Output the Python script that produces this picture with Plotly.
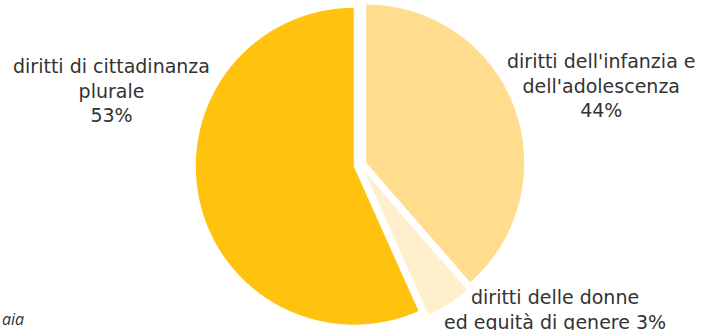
import plotly.graph_objects as go

labels = ["diritti dell'infanzia e<br>dell'adolescenza", "diritti delle donne<br>ed equità di genere", "diritti di cittadinanza<br>plurale"]
# slice sizes as drawn in the picture (angles measured), printed percentages below
values = [38.6, 4.7, 56.7]
pct_text = ["44%", "3%", "53%"]
colors = ["#FFDC8E", "#FFEFCD", "#FFC30F"]

fig = go.Figure(go.Pie(
    labels=labels, values=values, sort=False, direction="clockwise", rotation=0,
    pull=[0.038, 0.038, 0.038], textinfo="none", hoverinfo="skip",
    marker=dict(colors=colors, line=dict(width=1, color="white")),
    domain=dict(x=[0.026, 1], y=[0, 1]), showlegend=False,
))

W, H = 702, 330
label_pos = [(601, 85, "<br>"), (555, 309, " "), (111, 90, "<br>")]
for lab, pct, (px, py, sep) in zip(labels, pct_text, label_pos):
    fig.add_annotation(x=px / W, y=1 - py / H, xref="paper", yref="paper",
                       text=lab + sep + pct, showarrow=False, xanchor="center", yanchor="middle",
                       align="center", font=dict(family="DejaVu Sans", size=19, color="#333333"))

fig.add_annotation(x=0, y=1 - 319 / H, xref="paper", yref="paper", text="<i>aia</i>",
                   showarrow=False, xanchor="left", yanchor="middle",
                   font=dict(family="Open Sans", size=16, color="#333333"))

fig.update_layout(width=W, height=H, margin=dict(l=0, r=0, t=0, b=0),
                  paper_bgcolor="white", plot_bgcolor="white")
fig.write_html("out.html")
